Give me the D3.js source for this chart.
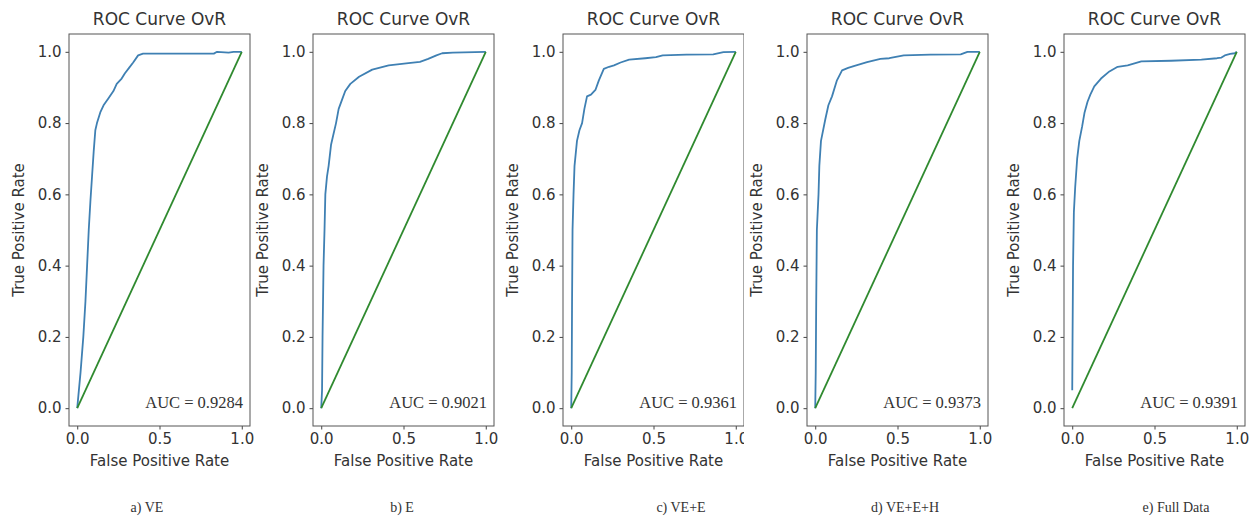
<!DOCTYPE html>
<html lang="en">
<head>
    <meta charset="UTF-8">
    <title>ROC Curves OvR</title>
    <script src="https://d3js.org/d3.v7.min.js"></script>
    <style>
        body { margin: 0; background: #fff; }
        .axis path, .axis line { stroke: #444; }
        .axis text { font-family: "DejaVu Sans", sans-serif; font-size: 15px; fill: #333; }
        .title, .axis-label { font-family: "DejaVu Sans", sans-serif; fill: #333; }
        .serif { font-family: "Liberation Serif", "Times New Roman", serif; fill: #333; }
    </style>
</head>
<body>
    <script>
        // ROC points [fpr, tpr]
        const rocVE = [[0,0],[0.02,0.1],[0.037,0.2],[0.05,0.3],[0.06,0.4],[0.07,0.5],[0.08,0.58],[0.09,0.65],[0.1,0.72],
            [0.11,0.78],[0.12,0.8],[0.14,0.83],[0.16,0.85],[0.19,0.87],[0.22,0.89],[0.24,0.91],[0.27,0.925],[0.29,0.94],
            [0.315,0.955],[0.34,0.97],[0.37,0.99],[0.4,0.995],[0.6,0.995],[0.83,0.995],[0.85,1.0],[0.92,0.998],[0.95,1.0],[1,1]];
        const rocE = [[0,0],[0.005,0.05],[0.008,0.2],[0.014,0.4],[0.02,0.5],[0.025,0.6],[0.035,0.65],[0.045,0.68],[0.06,0.74],
            [0.075,0.77],[0.09,0.8],[0.106,0.84],[0.13,0.87],[0.146,0.89],[0.177,0.91],[0.23,0.93],[0.31,0.95],[0.41,0.962],
            [0.53,0.968],[0.6,0.972],[0.65,0.98],[0.7,0.99],[0.735,0.996],[0.8,0.998],[1,1]];
        const rocVEE = [[0,0],[0.003,0.1],[0.005,0.3],[0.008,0.5],[0.014,0.6],[0.02,0.68],[0.035,0.75],[0.05,0.78],[0.066,0.8],
            [0.08,0.84],[0.096,0.875],[0.12,0.88],[0.147,0.893],[0.168,0.92],[0.198,0.952],[0.23,0.958],[0.26,0.962],[0.3,0.97],
            [0.352,0.978],[0.45,0.982],[0.515,0.985],[0.556,0.99],[0.7,0.992],[0.863,0.993],[0.925,0.999],[1,1]];
        const rocVEEH = [[0,0],[0.003,0.1],[0.006,0.3],[0.01,0.5],[0.02,0.6],[0.025,0.68],[0.035,0.75],[0.061,0.81],[0.08,0.85],
            [0.102,0.875],[0.132,0.92],[0.163,0.948],[0.2,0.955],[0.234,0.96],[0.315,0.971],[0.396,0.98],[0.45,0.982],
            [0.538,0.99],[0.7,0.992],[0.884,0.993],[0.925,1.0],[1,1]];
        const rocFull = [[0,0.05],[0.002,0.2],[0.005,0.4],[0.01,0.55],[0.018,0.62],[0.03,0.7],[0.043,0.75],[0.06,0.79],[0.075,0.83],
            [0.093,0.86],[0.11,0.88],[0.134,0.903],[0.175,0.925],[0.226,0.945],[0.276,0.958],[0.337,0.962],[0.42,0.973],
            [0.6,0.975],[0.785,0.978],[0.88,0.982],[0.907,0.984],[0.927,0.99],[0.96,0.994],[0.988,0.996],[1,1]];

        const rocSets = [rocVE, rocE, rocVEE, rocVEEH, rocFull];
        const aucValues = ['0.9284', '0.9021', '0.9361', '0.9373', '0.9391'];
        const captions = ['a) VE', 'b) E', 'c) VE+E', 'd) VE+E+H', 'e) Full Data'];
        const chanceLine = [[0, 0], [1, 1]];
        const xTicks = [0, 0.5, 1];
        const yTicks = [0, 0.2, 0.4, 0.6, 0.8, 1];

        // layout of each sub-image (frame left, where the image starts, caption centre)
        const frameLeft = [69, 313, 563, 807, 1064];
        const frameWidth = 181;
        const imageStart = [0, 256, 506, 744, 1006];
        const captionX = [147, 402, 681, 905, 1176];
        const plotTop = 34, plotBottom = 426;

        const svg = d3.select('body').append('svg')
            .attr('width', 1253)
            .attr('height', 522);

        rocSets.forEach((roc, i) => {
            const g = svg.append('g');
            const left = frameLeft[i], right = left + frameWidth;

            // white backdrop so the next image clips the previous one's edge
            g.append('rect')
                .attr('x', imageStart[i]).attr('y', 0)
                .attr('width', 1253 - imageStart[i]).attr('height', 522)
                .attr('fill', '#fff');

            const x = d3.scaleLinear().domain([-0.05, 1.05]).range([left, right]);
            const y = d3.scaleLinear().domain([-0.05, 1.05]).range([plotBottom, plotTop]);

            g.append('g')
                .attr('class', 'axis')
                .attr('transform', `translate(0,${plotBottom})`)
                .call(d3.axisBottom(x).tickValues(xTicks).tickFormat(d3.format('.1f')).tickSize(3.5).tickPadding(4))
                .call(a => a.select('.domain').remove());

            g.append('g')
                .attr('class', 'axis')
                .attr('transform', `translate(${left},0)`)
                .call(d3.axisLeft(y).tickValues(yTicks).tickFormat(d3.format('.1f')).tickSize(3.5).tickPadding(4))
                .call(a => a.select('.domain').remove());

            const line = d3.line().x(d => x(d[0])).y(d => y(d[1]));

            g.append('path')
                .datum(roc)
                .attr('d', line)
                .attr('fill', 'none')
                .attr('stroke', '#3f80b3')
                .attr('stroke-width', 1.8)
                .attr('stroke-linejoin', 'round');

            g.append('path')
                .datum(chanceLine)
                .attr('d', line)
                .attr('fill', 'none')
                .attr('stroke', '#2f8a2f')
                .attr('stroke-width', 1.8);

            g.append('rect')
                .attr('x', left).attr('y', plotTop)
                .attr('width', frameWidth).attr('height', plotBottom - plotTop)
                .attr('fill', 'none')
                .attr('stroke', '#555')
                .attr('stroke-width', 1);

            g.append('text')
                .attr('class', 'title')
                .attr('x', (left + right) / 2)
                .attr('y', 25)
                .attr('text-anchor', 'middle')
                .attr('font-size', 17)
                .text('ROC Curve OvR');

            g.append('text')
                .attr('class', 'axis-label')
                .attr('x', (left + right) / 2)
                .attr('y', 466)
                .attr('text-anchor', 'middle')
                .attr('font-size', 15)
                .text('False Positive Rate');

            g.append('text')
                .attr('class', 'axis-label')
                .attr('transform', `translate(${left - 45},${(plotTop + plotBottom) / 2}) rotate(-90)`)
                .attr('text-anchor', 'middle')
                .attr('font-size', 15)
                .text('True Positive Rate');

            g.append('text')
                .attr('class', 'serif')
                .attr('x', right - 7)
                .attr('y', y(0))
                .attr('text-anchor', 'end')
                .attr('font-size', 16.5)
                .text(`AUC = ${aucValues[i]}`);

            g.append('text')
                .attr('class', 'serif')
                .attr('x', captionX[i])
                .attr('y', 512)
                .attr('text-anchor', 'middle')
                .attr('font-size', 14)
                .text(captions[i]);
        });
    </script>
</body>
</html>
